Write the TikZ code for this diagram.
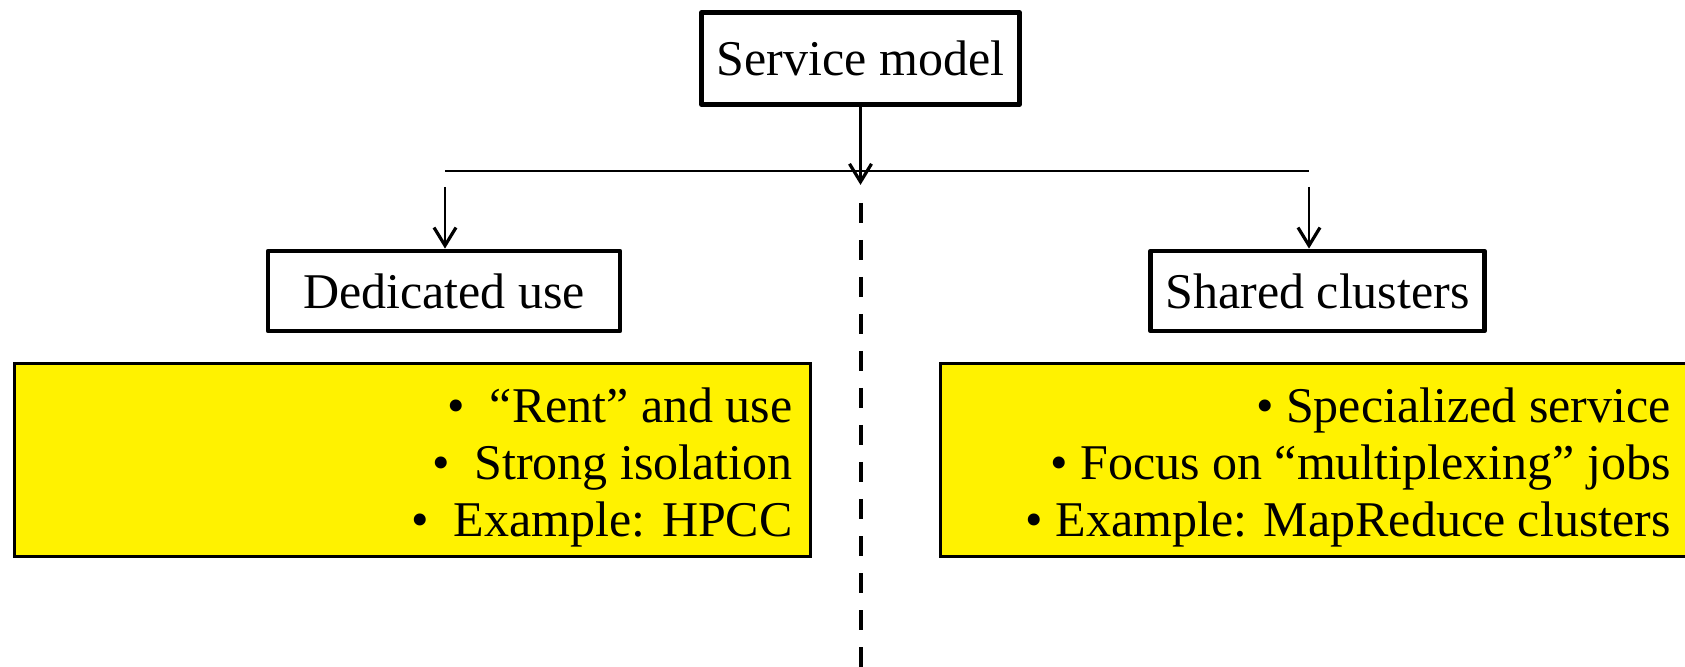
\documentclass[tikz,border=0pt]{standalone}
\usepackage{fontspec}
\setmainfont{Liberation Serif}
\usetikzlibrary{arrows.meta}
\begin{document}
\begin{tikzpicture}[x=0.5pt,y=-0.5pt,
    box/.style={draw,line width=2.4pt,line join=round,inner sep=0pt,
      font=\fontsize{25}{30}\selectfont},
    note/.style={draw,line width=1.5pt,fill=yellow,inner sep=0pt,minimum height=96pt},
    items/.style={align=right,inner sep=0pt,font=\fontsize{25}{28.5}\selectfont},
    barb/.style={line width=1.1pt,-{Straight Barb[length=9pt,width=11pt,line width=1.6pt]}}]
    \useasboundingbox (0,0) rectangle (1685,667);

    % boxes
    \node[box,minimum width=159pt,minimum height=46pt] (service) at (860.5,58.5) {Service model};
    \node[box,minimum width=176pt,minimum height=40pt] (dedicated) at (444,291) {Dedicated use};
    \node[box,minimum width=167pt,minimum height=40pt] (shared) at (1317.5,291) {Shared clusters};

    \node[note,minimum width=398pt] (dedicatednote) at (412.5,460) {};
    \node[note,minimum width=390pt] (sharednote) at (1330,460) {};

    \node[items,anchor=east] (dedicateditems) at (793,467)
      {•\ \ “Rent” and use\\•\ \ Strong isolation\\•\ \ Example: HPCC};
    \node[items,anchor=east] (shareditems) at (1671,467)
      {• Specialized service\\• Focus on “multiplexing” jobs\\• Example: MapReduce clusters};

    % connectors
    \coordinate (busleft) at (445,171);
    \coordinate (busright) at (1309,171);
    \coordinate (lefttop) at (445,187);
    \coordinate (righttop) at (1309,187);
    \coordinate (splittop) at (861,203);
    \coordinate (splitbottom) at (861,667);

    \draw[line width=1.2pt] (busleft) -- (busright);
    \draw[barb] (service.south) -- ++(0,78);
    \draw[barb] (lefttop) -- (lefttop |- dedicated.north);
    \draw[barb] (righttop) -- (righttop |- shared.north);
    \draw[line width=2.4pt,dash pattern=on 10pt off 8.5pt] (splittop) -- (splitbottom);
\end{tikzpicture}
\end{document}
